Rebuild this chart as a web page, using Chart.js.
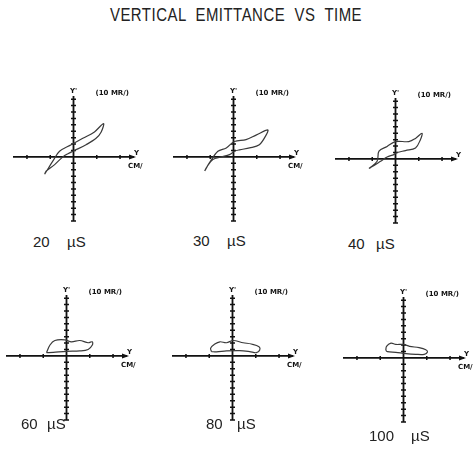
<!DOCTYPE html>
<html><head><meta charset="utf-8">
<script src="https://cdn.jsdelivr.net/npm/chart.js@4"></script>
<style>
body{margin:0;background:#fff;width:476px;height:453px;position:relative;overflow:hidden;font-family:'Liberation Sans',Arial,sans-serif;}
#title{position:absolute;left:-2px;width:476px;top:5px;text-align:center;font-size:18px;letter-spacing:0.6px;white-space:pre;color:#222;transform:scaleX(0.83);transform-origin:center;}
canvas{position:absolute;}
.lab{position:absolute;font-size:15px;color:#222;white-space:pre;line-height:16px;}
</style></head><body>
<div id="title">VERTICAL  EMITTANCE  VS  TIME</div>
<script>
// ---- data ----
const times = ['20', '30', '40', '60', '80', '100'];
const timeUnit = 'µS';
const yLabel = "Y'";
const yUnit = '(10 MR/)';
const xLabel = 'Y';
const xUnit = 'CM/';
const xTicks = [-2, -1, 1, 2];
const yTicks = [-10,-9,-8,-7,-6,-5,-4,-3,-2,-1,1,2,3,4,5,6,7,8,9];

const x20 = [-1.24,-0.89,-0.6,-0.1,0.4,0.9,1.29,1.19,0.97,0.54,0.04,-0.24,-0.46,-0.81,-1.17,-1.24];
const y20 = [-2.7,-0.67,0.87,1.9,2.9,3.9,5.2,3.9,2.9,1.9,1.0,0.5,0,-1.2,-2.2,-2.7];
const x30 = [-1.24,-1.03,-0.67,-0.31,0.04,0.54,0.97,1.47,1.4,1.11,0.69,0.26,0.04,-0.17,-0.53,-0.89,-1.17,-1.24];
const y30 = [-2.2,-0.9,0.87,1.4,2.4,2.7,3.4,4.2,3.4,1.9,1.4,1.1,0.87,0.36,0,-0.4,-1.7,-2.2];
const x40 = [-1.14,-0.79,-0.71,-0.36,0,0.57,0.86,1.14,1.07,0.86,0.43,0.07,-0.07,-0.36,-0.64,-1.0,-1.14];
const y40 = [-1.5,-0.36,1.2,1.95,2.7,2.7,3.2,4.0,3.0,1.7,1.3,1.0,0.67,0.3,-0.36,-1.2,-1.5];
const x60 = [-0.86,-0.71,-0.5,-0.07,0.21,0.57,0.93,1.11,1.11,0.93,0.57,0,-0.57,-0.86];
const y60 = [0.5,1.7,2.4,2.5,2.2,2.4,2.05,2.2,1.7,1.0,0.77,0.72,0.56,0.5];
const x80 = [-0.9,-0.94,-0.76,-0.54,-0.26,0.03,0.46,0.81,1.14,1.17,1.03,0.74,0.31,-0.26,-0.69,-0.9];
const y80 = [0.67,1.2,1.85,2.2,2.05,2.4,2.05,1.85,1.44,0.92,0.5,0.67,0.82,0.77,0.62,0.67];
const x100 = [-0.76,-0.73,-0.54,-0.33,0,0.26,0.67,0.96,1.03,0.89,0.53,0.1,-0.33,-0.69,-0.76];
const y100 = [1.18,1.8,2.3,2.1,2.1,1.8,1.6,1.28,0.92,0.56,0.56,0.67,0.87,0.97,1.18];

const seriesX = [x20, x30, x40, x60, x80, x100];
const seriesY = [y20, y30, y40, y60, y80, y100];
const showUnitX = [true, true, false, true, true, true];

// ---- layout ----
const X_MIN = -2.6, X_MAX = 2.6, Y_MIN = -10, Y_MAX = 9.5;
const PXX = 23.3, PXY = 6.4;
const PAD = {left: 8, right: 20, top: 16, bottom: 8};
const centers = [[74,157],[234,157],[396,159],[67,356],[233,356],[404,358]];
const timePos = [[33,67,242],[193,227,241],[348,376,244],[21,47,424],[206,237,424],[369,411,436]];

const axesPlugin = {
  id: 'phaseAxes',
  beforeDatasetsDraw(chart, args, opts) {
    const ctx = chart.ctx, x = chart.scales.x, y = chart.scales.y;
    const x0 = x.getPixelForValue(0), y0 = y.getPixelForValue(0);
    const xl = x.getPixelForValue(X_MIN), xr = x.getPixelForValue(X_MAX);
    const yt = y.getPixelForValue(Y_MAX), yb = y.getPixelForValue(Y_MIN);
    ctx.save();
    ctx.strokeStyle = '#111';
    ctx.fillStyle = '#111';
    ctx.lineWidth = 1.8;
    ctx.beginPath();
    ctx.moveTo(xl, y0); ctx.lineTo(xr, y0);
    ctx.moveTo(x0, yt); ctx.lineTo(x0, yb);
    ctx.stroke();
    ctx.lineWidth = 1.5;
    ctx.beginPath();
    xTicks.forEach(v => { const p = x.getPixelForValue(v); ctx.moveTo(p, y0 - 2); ctx.lineTo(p, y0 + 2); });
    yTicks.forEach(v => { const p = y.getPixelForValue(v); ctx.moveTo(x0 - 2.5, p); ctx.lineTo(x0 + 2.5, p); });
    ctx.stroke();
    // arrow head on horizontal axis
    ctx.beginPath();
    ctx.moveTo(xr + 2, y0); ctx.lineTo(xr - 5, y0 - 2.5); ctx.lineTo(xr - 5, y0 + 2.5); ctx.closePath();
    ctx.fill();
    // labels
    ctx.font = 'bold 7px "DejaVu Sans", sans-serif';
    ctx.textBaseline = 'middle';
    ctx.textAlign = 'center';
    ctx.fillText(yLabel, x0, yt - 5);
    ctx.textAlign = 'left';
    ctx.fillText(yUnit, x0 + 22, yt - 3);
    ctx.fillText(xLabel, xr, y0 - 4);
    if (opts.unitX) ctx.fillText(xUnit, xr - 6, y0 + 9);
    ctx.restore();
  }
};

times.forEach((t, i) => {
  const cv = document.createElement('canvas');
  const w = PAD.left + PAD.right + (X_MAX - X_MIN) * PXX;
  const h = PAD.top + PAD.bottom + (Y_MAX - Y_MIN) * PXY;
  cv.width = Math.round(w); cv.height = Math.round(h);
  cv.style.left = (centers[i][0] - PAD.left - (-X_MIN) * PXX) + 'px';
  cv.style.top = (centers[i][1] - PAD.top - Y_MAX * PXY) + 'px';
  document.body.appendChild(cv);
  new Chart(cv, {
    type: 'scatter',
    data: { datasets: [{
      data: seriesX[i].map((v, k) => ({x: v, y: seriesY[i][k]})),
      showLine: true, borderColor: '#3a3a3a', borderWidth: 1.2,
      pointRadius: 0, tension: 0.35, fill: false
    }]},
    options: {
      responsive: false, animation: false, events: [], devicePixelRatio: 1,
      layout: { padding: PAD },
      plugins: { legend: {display: false}, tooltip: {enabled: false}, phaseAxes: {unitX: showUnitX[i]} },
      scales: {
        x: { type: 'linear', min: X_MIN, max: X_MAX, display: false },
        y: { type: 'linear', min: Y_MIN, max: Y_MAX, display: false }
      }
    },
    plugins: [axesPlugin]
  });
  const n = document.createElement('div');
  n.className = 'lab'; n.textContent = t;
  n.style.left = timePos[i][0] + 'px'; n.style.top = (timePos[i][2] - 8) + 'px';
  document.body.appendChild(n);
  const u = document.createElement('div');
  u.className = 'lab'; u.textContent = timeUnit;
  u.style.left = timePos[i][1] + 'px'; u.style.top = (timePos[i][2] - 8) + 'px';
  document.body.appendChild(u);
});
</script>
</body></html>
